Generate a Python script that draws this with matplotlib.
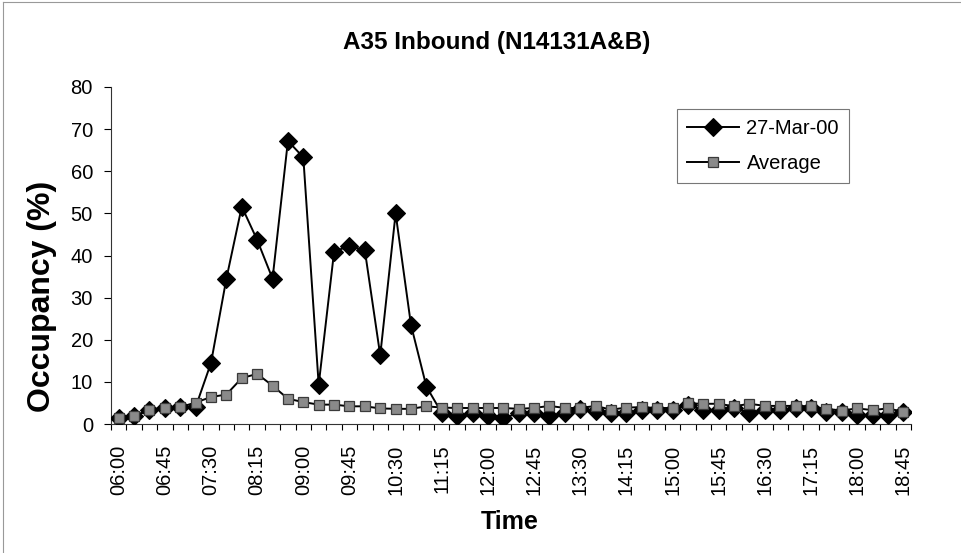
import matplotlib
matplotlib.use("Agg")
import matplotlib.pyplot as plt
from matplotlib.lines import Line2D

plt.rcParams['font.family'] = ['Liberation Sans', 'DejaVu Sans']

# 15-minute intervals, 06:00 to 18:45
times = ["06:00", "06:15", "06:30", "06:45", "07:00", "07:15", "07:30", "07:45",
         "08:00", "08:15", "08:30", "08:45", "09:00", "09:15", "09:30", "09:45",
         "10:00", "10:15", "10:30", "10:45", "11:00", "11:15", "11:30", "11:45",
         "12:00", "12:15", "12:30", "12:45", "13:00", "13:15", "13:30", "13:45",
         "14:00", "14:15", "14:30", "14:45", "15:00", "15:15", "15:30", "15:45",
         "16:00", "16:15", "16:30", "16:45", "17:00", "17:15", "17:30", "17:45",
         "18:00", "18:15", "18:30", "18:45"]

occ_27mar = [1.5, 1.8, 3.4, 3.8, 4.0, 4.0, 14.5, 34.5, 51.6, 43.7,
             34.5, 67.2, 63.3, 9.3, 40.9, 42.3, 41.2, 16.3, 50.0, 23.5,
             8.9, 2.6, 1.8, 2.6, 1.8, 1.4, 2.6, 2.6, 1.8, 2.6,
             3.5, 3.0, 2.6, 2.6, 3.3, 3.3, 3.3, 4.5, 3.3, 3.3,
             3.9, 2.5, 3.3, 3.3, 3.9, 3.7, 2.9, 2.9, 2.1, 2.1, 2.1, 2.9]

occ_average = [1.5, 1.8, 3.4, 3.8, 4.0, 5.1, 6.4, 7.0, 10.9, 11.9,
               9.1, 6.0, 5.2, 4.6, 4.6, 4.2, 4.2, 3.7, 3.6, 3.6,
               4.2, 3.9, 3.8, 3.8, 3.8, 3.8, 3.6, 3.8, 4.3, 3.8,
               3.8, 4.3, 3.4, 3.9, 4.0, 3.8, 3.8, 4.9, 4.8, 4.8,
               4.2, 4.8, 4.3, 4.3, 4.3, 4.2, 3.6, 3.2, 3.7, 3.3, 3.7, 2.9]

label_every = 3
y_ticks = [0, 10, 20, 30, 40, 50, 60, 70, 80]

W, H = 961, 553
fig = plt.figure(figsize=(W / 100, H / 100), dpi=100)
ax = fig.add_axes([111 / W, 1 - 424 / H, (911 - 111) / W, (424 - 87) / H])

x = list(range(len(times)))
ax.plot(x, occ_27mar, color='black', lw=1.4, marker='D', ms=9,
        mfc='black', mec='black', mew=0.8, label='27-Mar-00', zorder=3)
ax.plot(x, occ_average, color='black', lw=1.4, marker='s', ms=7.5,
        mfc='#8a8a8a', mec='#3a3a3a', mew=0.9, label='Average', zorder=4)

ax.set_xlim(-0.5, len(times) - 0.5)
ax.set_ylim(0, 80)
ax.set_yticks(y_ticks)
ax.tick_params(axis='y', direction='out', length=5, width=0.8, labelsize=14.5, pad=8)

# tick marks on category boundaries, labels centred on categories
ax.set_xticks([i - 0.5 for i in range(len(times) + 1)])
ax.set_xticklabels([])
ax.tick_params(axis='x', which='major', direction='out', length=4, width=0.8)
ax.set_xticks(x[::label_every], minor=True)
ax.set_xticklabels(times[::label_every], minor=True, rotation=90, fontsize=14.5)
ax.tick_params(axis='x', which='minor', length=0, pad=15)

for s in ('top', 'right'):
    ax.spines[s].set_visible(False)
for s in ('left', 'bottom'):
    ax.spines[s].set_linewidth(0.8)
    ax.spines[s].set_color('#333333')

fig.text(497 / W, 1 - 42 / H, 'A35 Inbound (N14131A&B)', ha='center', va='center',
         fontsize=17.5, fontweight='bold')
fig.text(42 / W, 1 - 296 / H, 'Occupancy (%)', ha='center', va='center',
         rotation=90, fontsize=23, fontweight='bold')
fig.text(510 / W, 1 - 522 / H, 'Time', ha='center', va='center',
         fontsize=18, fontweight='bold')

leg = ax.legend(loc='upper left', bbox_to_anchor=((677 - 111) / 800, (424 - 109) / 337),
                frameon=True, fancybox=False, shadow=False, fontsize=14.5,
                handlelength=2.6, borderpad=0.5, labelspacing=0.8, handletextpad=0.35,
                borderaxespad=0)
leg.get_frame().set_edgecolor('#555555')
leg.get_frame().set_linewidth(0.8)

# outer chart border (top and left edges)
fig.add_artist(Line2D([3 / W, 1], [1 - 2 / H, 1 - 2 / H], color='#999999', lw=0.8))
fig.add_artist(Line2D([3 / W, 3 / W], [0, 1 - 2 / H], color='#999999', lw=0.8))

fig.savefig('out.png', dpi=100)
